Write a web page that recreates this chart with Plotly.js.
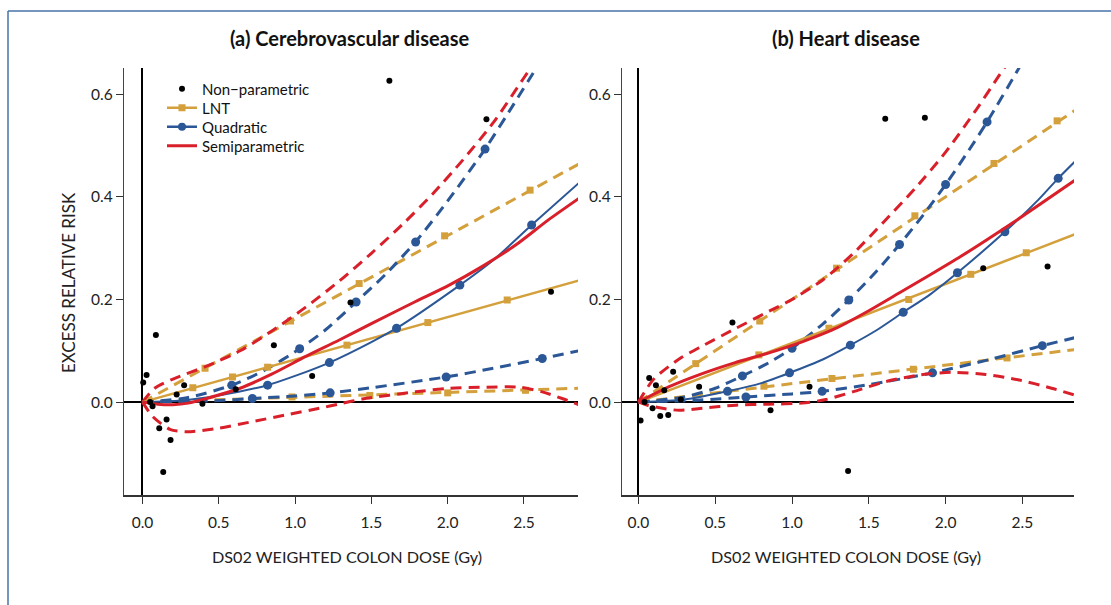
<!DOCTYPE html>
<html><head><meta charset="utf-8">
<script src="https://cdn.plot.ly/plotly-3.0.1.min.js"></script>
<style>html,body{margin:0;padding:0;background:#fff}</style>
</head><body><div id="chart" style="width:1111px;height:605px"></div>
<script>
// ---------- Panel (a) Cerebrovascular disease ----------
const aNonparX = [0.005, 0.027, 0.05, 0.066, 0.088, 0.11, 0.136, 0.158, 0.184, 0.224, 0.273, 0.393, 0.611, 0.861, 1.112, 1.363, 1.618, 2.254, 2.677];
const aNonparY = [0.038, 0.053, 0.0, -0.008, 0.131, -0.051, -0.136, -0.034, -0.074, 0.015, 0.033, -0.003, 0.025, 0.111, 0.051, 0.194, 0.626, 0.551, 0.215];

const aLntX = [0, 2.86];            const aLntY = [0, 0.237];
const aLntMarkX = [0.33, 0.59, 0.82, 1.34, 1.87, 2.39];
const aLntMarkY = [0.028, 0.049, 0.068, 0.111, 0.155, 0.199];
const aLntUpX = [0, 2.86];          const aLntUpY = [0, 0.464];
const aLntUpMarkX = [0.41, 0.97, 1.42, 1.98, 2.54];
const aLntUpMarkY = [0.066, 0.158, 0.231, 0.324, 0.413];
const aLntLoX = [0, 2.86];          const aLntLoY = [0, 0.027];
const aLntLoMarkX = [0.98, 1.49, 2.0, 2.51];
const aLntLoMarkY = [0.010, 0.013, 0.018, 0.023];

const aQuadX = [0, 0.25, 0.5, 0.82, 1.0, 1.225, 1.5, 1.665, 2.08, 2.3, 2.55, 2.86];
const aQuadY = [0, 0.003, 0.013, 0.033, 0.051, 0.077, 0.117, 0.144, 0.228, 0.277, 0.345, 0.427];
const aQuadMarkX = [0.82, 1.225, 1.665, 2.08, 2.55];
const aQuadMarkY = [0.033, 0.077, 0.144, 0.228, 0.345];
const aQuadUpX = [0, 0.3, 0.585, 0.8, 1.03, 1.2, 1.4, 1.6, 1.8, 2.0, 2.245, 2.4, 2.6];
const aQuadUpY = [0, 0.009, 0.033, 0.062, 0.104, 0.141, 0.195, 0.251, 0.316, 0.392, 0.493, 0.565, 0.66];
const aQuadUpMarkX = [0.585, 1.03, 1.40, 1.79, 2.245];
const aQuadUpMarkY = [0.033, 0.104, 0.195, 0.312, 0.493];
const aQuadLoX = [0, 0.5, 0.72, 1.0, 1.23, 1.5, 1.99, 2.3, 2.62, 2.86];
const aQuadLoY = [0, 0.003, 0.007, 0.012, 0.018, 0.028, 0.049, 0.066, 0.085, 0.1];
const aQuadLoMarkX = [0.72, 1.23, 1.99, 2.62];
const aQuadLoMarkY = [0.007, 0.018, 0.049, 0.085];

const aSemiX = [0, 0.1, 0.2, 0.3, 0.42, 0.64, 0.85, 1.07, 1.29, 1.5, 1.79, 2.01, 2.23, 2.45, 2.66, 2.86];
const aSemiY = [0, -0.004, -0.005, -0.002, 0.007, 0.027, 0.055, 0.089, 0.121, 0.153, 0.196, 0.228, 0.265, 0.307, 0.355, 0.397];
const aSemiUpX = [0, 0.08, 0.2, 0.42, 0.64, 0.855, 1.07, 1.29, 1.5, 1.7, 1.9, 2.1, 2.3, 2.5, 2.6];
const aSemiUpY = [0, 0.027, 0.045, 0.07, 0.1, 0.14, 0.185, 0.236, 0.29, 0.345, 0.405, 0.472, 0.545, 0.632, 0.675];
const aSemiLoX = [0, 0.07, 0.18, 0.29, 0.5, 0.72, 0.94, 1.16, 1.3, 1.44, 1.79, 2.01, 2.23, 2.47, 2.62, 2.75, 2.86];
const aSemiLoY = [0, -0.029, -0.053, -0.058, -0.051, -0.038, -0.025, -0.012, -0.003, 0.006, 0.02, 0.027, 0.029, 0.029, 0.02, 0.007, -0.005];

// ---------- Panel (b) Heart disease ----------
const bNonparX = [0.014, 0.04, 0.07, 0.092, 0.114, 0.142, 0.168, 0.194, 0.226, 0.276, 0.395, 0.612, 0.86, 1.114, 1.365, 1.607, 1.865, 2.245, 2.664];
const bNonparY = [-0.036, 0.0, 0.047, -0.012, 0.033, -0.027, 0.023, -0.025, 0.059, 0.005, 0.03, 0.155, -0.016, 0.03, -0.134, 0.552, 0.554, 0.261, 0.264];

const bLntX = [0, 2.86];            const bLntY = [0, 0.329];
const bLntMarkX = [0.784, 1.24, 1.76, 2.164, 2.525];
const bLntMarkY = [0.092, 0.144, 0.2, 0.249, 0.291];
const bLntUpX = [0, 2.86];          const bLntUpY = [0, 0.572];
const bLntUpMarkX = [0.373, 0.79, 1.29, 1.80, 2.315, 2.726];
const bLntUpMarkY = [0.075, 0.158, 0.261, 0.363, 0.465, 0.548];
const bLntLoX = [0, 2.86];          const bLntLoY = [0, 0.103];
const bLntLoMarkX = [0.817, 1.26, 1.79, 2.40];
const bLntLoMarkY = [0.031, 0.046, 0.064, 0.086];

const bQuadX = [0, 0.3, 0.58, 0.8, 0.984, 1.2, 1.38, 1.55, 1.724, 1.9, 2.077, 2.386, 2.6, 2.733, 2.86];
const bQuadY = [0, 0.005, 0.021, 0.037, 0.057, 0.083, 0.111, 0.14, 0.175, 0.21, 0.252, 0.332, 0.393, 0.436, 0.474];
const bQuadMarkX = [0.58, 0.984, 1.38, 1.724, 2.077, 2.386, 2.733];
const bQuadMarkY = [0.021, 0.057, 0.111, 0.175, 0.252, 0.332, 0.436];
const bQuadUpX = [0, 0.3, 0.5, 0.677, 0.85, 1.0, 1.2, 1.37, 1.55, 1.70, 1.85, 2.0, 2.15, 2.27, 2.47, 2.55];
const bQuadUpY = [0, 0.01, 0.027, 0.051, 0.077, 0.105, 0.152, 0.199, 0.255, 0.307, 0.363, 0.424, 0.49, 0.546, 0.647, 0.69];
const bQuadUpMarkX = [0.677, 1.0, 1.37, 1.70, 2.0, 2.27];
const bQuadUpMarkY = [0.051, 0.105, 0.199, 0.307, 0.424, 0.546];
const bQuadLoX = [0, 0.4, 0.70, 1.0, 1.196, 1.5, 1.915, 2.3, 2.63, 2.86];
const bQuadLoY = [0, 0.004, 0.010, 0.016, 0.021, 0.034, 0.057, 0.084, 0.11, 0.127];
const bQuadLoMarkX = [0.70, 1.196, 1.915, 2.63];
const bQuadLoMarkY = [0.010, 0.021, 0.057, 0.11];

const bSemiX = [0, 0.2, 0.42, 0.63, 0.85, 1.07, 1.28, 1.5, 1.7, 1.9, 2.1, 2.43, 2.86];
const bSemiY = [0, 0.03, 0.056, 0.077, 0.096, 0.118, 0.143, 0.178, 0.213, 0.248, 0.284, 0.348, 0.436];
const bSemiUpX = [0, 0.1, 0.27, 0.42, 0.63, 0.85, 1.0, 1.2, 1.4, 1.6, 1.8, 2.0, 2.2, 2.35, 2.45];
const bSemiUpY = [0, 0.045, 0.085, 0.11, 0.143, 0.177, 0.2, 0.238, 0.29, 0.352, 0.416, 0.487, 0.57, 0.637, 0.68];
const bSemiLoX = [0, 0.06, 0.157, 0.265, 0.417, 0.633, 0.85, 1.066, 1.22, 1.395, 1.61, 1.83, 2.04, 2.26, 2.48, 2.69, 2.86];
const bSemiLoY = [0, -0.006, -0.012, -0.016, -0.012, -0.006, -0.004, -0.002, 0.005, 0.02, 0.04, 0.053, 0.058, 0.054, 0.043, 0.027, 0.012];

const xTickVals = [0, 0.5, 1.0, 1.5, 2.0, 2.5];
const yTickVals = [0, 0.2, 0.4, 0.6];
const legendNames = ['Non\u2212parametric', 'LNT', 'Quadratic', 'Semiparametric'];
const panelTitles = ['(a) Cerebrovascular disease', '(b) Heart disease'];
const xTitle = 'DS02 WEIGHTED COLON DOSE (Gy)';
const yTitle = 'EXCESS RELATIVE RISK';

// ---------- styling ----------
const ORANGE = '#D4A03C', BLUE = '#2B5797', RED = '#D9202A';
const DASH = '11px,7px';
const FONT = 'Lato, "Open Sans", "DejaVu Sans", sans-serif';
const W = 1111, H = 605;
const px = v => v / W, py = v => 1 - v / H;

function line(x, y, color, width, dash, xa, ya) {
  return {type: 'scatter', mode: 'lines', x: x, y: y, xaxis: xa, yaxis: ya,
    line: {color: color, width: width, dash: dash || 'solid', shape: 'spline', smoothing: 0.7},
    showlegend: false, hoverinfo: 'skip'};
}
function marks(x, y, color, symbol, size, xa, ya) {
  return {type: 'scatter', mode: 'markers', x: x, y: y, xaxis: xa, yaxis: ya,
    marker: {color: color, symbol: symbol, size: size, line: {width: 0}},
    showlegend: false, hoverinfo: 'skip'};
}
function panel(d, xa, ya) {
  return [
    line(d.lntUpX, d.lntUpY, ORANGE, 3, DASH, xa, ya),
    marks(d.lntUpMX, d.lntUpMY, ORANGE, 'square', 7, xa, ya),
    line(d.lntLoX, d.lntLoY, ORANGE, 3, DASH, xa, ya),
    marks(d.lntLoMX, d.lntLoMY, ORANGE, 'square', 7, xa, ya),
    line(d.qUpX, d.qUpY, BLUE, 3, DASH, xa, ya),
    marks(d.qUpMX, d.qUpMY, BLUE, 'circle', 9, xa, ya),
    line(d.qLoX, d.qLoY, BLUE, 3, DASH, xa, ya),
    marks(d.qLoMX, d.qLoMY, BLUE, 'circle', 9, xa, ya),
    line(d.sUpX, d.sUpY, RED, 3, DASH, xa, ya),
    line(d.sLoX, d.sLoY, RED, 3, DASH, xa, ya),
    line(d.lntX, d.lntY, ORANGE, 2.5, 'solid', xa, ya),
    marks(d.lntMX, d.lntMY, ORANGE, 'square', 7, xa, ya),
    line(d.qX, d.qY, BLUE, 2, 'solid', xa, ya),
    marks(d.qMX, d.qMY, BLUE, 'circle', 9, xa, ya),
    line(d.sX, d.sY, RED, 3, 'solid', xa, ya),
    marks(d.npX, d.npY, '#000', 'circle', 6, xa, ya)
  ];
}
const traces = [].concat(
  panel({lntX: aLntX, lntY: aLntY, lntMX: aLntMarkX, lntMY: aLntMarkY,
    lntUpX: aLntUpX, lntUpY: aLntUpY, lntUpMX: aLntUpMarkX, lntUpMY: aLntUpMarkY,
    lntLoX: aLntLoX, lntLoY: aLntLoY, lntLoMX: aLntLoMarkX, lntLoMY: aLntLoMarkY,
    qX: aQuadX, qY: aQuadY, qMX: aQuadMarkX, qMY: aQuadMarkY,
    qUpX: aQuadUpX, qUpY: aQuadUpY, qUpMX: aQuadUpMarkX, qUpMY: aQuadUpMarkY,
    qLoX: aQuadLoX, qLoY: aQuadLoY, qLoMX: aQuadLoMarkX, qLoMY: aQuadLoMarkY,
    sX: aSemiX, sY: aSemiY, sUpX: aSemiUpX, sUpY: aSemiUpY, sLoX: aSemiLoX, sLoY: aSemiLoY,
    npX: aNonparX, npY: aNonparY}, 'x', 'y'),
  panel({lntX: bLntX, lntY: bLntY, lntMX: bLntMarkX, lntMY: bLntMarkY,
    lntUpX: bLntUpX, lntUpY: bLntUpY, lntUpMX: bLntUpMarkX, lntUpMY: bLntUpMarkY,
    lntLoX: bLntLoX, lntLoY: bLntLoY, lntLoMX: bLntLoMarkX, lntLoMY: bLntLoMarkY,
    qX: bQuadX, qY: bQuadY, qMX: bQuadMarkX, qMY: bQuadMarkY,
    qUpX: bQuadUpX, qUpY: bQuadUpY, qUpMX: bQuadUpMarkX, qUpMY: bQuadUpMarkY,
    qLoX: bQuadLoX, qLoY: bQuadLoY, qLoMX: bQuadLoMarkX, qLoMY: bQuadLoMarkY,
    sX: bSemiX, sY: bSemiY, sUpX: bSemiUpX, sUpY: bSemiUpY, sLoX: bSemiLoX, sLoY: bSemiLoY,
    npX: bNonparX, npY: bNonparY}, 'x2', 'y2')
);

// legend entries (one legend per entry for tight spacing)
const legendStyles = [
  {mode: 'markers', marker: {color: '#000', size: 6}},
  {mode: 'lines+markers', line: {color: ORANGE, width: 2.5}, marker: {color: ORANGE, symbol: 'square', size: 7}},
  {mode: 'lines+markers', line: {color: BLUE, width: 2.5}, marker: {color: BLUE, symbol: 'circle', size: 8}},
  {mode: 'lines', line: {color: RED, width: 3}}
];
const legendIds = ['legend', 'legend2', 'legend3', 'legend4'];
const legendRowY = [89, 108, 127, 146];
legendNames.forEach((n, i) => {
  traces.push(Object.assign({type: 'scatter', x: [null], y: [null], name: n,
    legend: legendIds[i], showlegend: true, xaxis: 'x', yaxis: 'y', hoverinfo: 'skip'}, legendStyles[i]));
});

function xAxis(dom, rng, anchor) {
  return {domain: dom, range: rng, anchor: anchor, tickvals: xTickVals, tickformat: '.1f',
    ticks: 'outside', ticklen: 7, tickwidth: 1, tickcolor: '#333', ticklabelstandoff: 6,
    showline: true, linecolor: '#333', linewidth: 1.5, showgrid: false,
    zeroline: true, zerolinecolor: '#000', zerolinewidth: 2,
    tickfont: {family: FONT, size: 15.5, color: '#222'}, fixedrange: true};
}
function yAxis(dom, rng, anchor) {
  return {domain: dom, range: rng, anchor: anchor, tickvals: yTickVals, tickformat: '.1f',
    ticks: 'outside', ticklen: 7, tickwidth: 1, tickcolor: '#333',
    showline: true, linecolor: '#444', linewidth: 1.2, showgrid: false,
    zeroline: true, zerolinecolor: '#000', zerolinewidth: 2,
    tickfont: {family: FONT, size: 15.5, color: '#222'}, fixedrange: true};
}

const yDom = [py(495), py(68)];
const layout = {
  width: W, height: H, margin: {l: 0, r: 0, t: 0, b: 0, pad: 0},
  paper_bgcolor: '#fff', plot_bgcolor: 'rgba(0,0,0,0)',
  xaxis: xAxis([px(124), px(578)], [-0.121, 2.854], 'y'),
  yaxis: yAxis(yDom, [-0.181, 0.651], 'x'),
  xaxis2: xAxis([px(622), px(1074)], [-0.107, 2.836], 'y2'),
  yaxis2: yAxis(yDom, [-0.181, 0.651], 'x2'),
  annotations: [
    {text: panelTitles[0], x: px(350), y: py(38), xref: 'paper', yref: 'paper', showarrow: false,
      xanchor: 'center', yanchor: 'middle', font: {family: FONT, size: 20, color: '#111', weight: 700}},
    {text: panelTitles[1], x: px(846), y: py(38), xref: 'paper', yref: 'paper', showarrow: false,
      xanchor: 'center', yanchor: 'middle', font: {family: FONT, size: 20, color: '#111', weight: 700}},
    {text: xTitle, x: px(347), y: py(556), xref: 'paper', yref: 'paper', showarrow: false,
      xanchor: 'center', yanchor: 'middle', font: {family: FONT, size: 16.2, color: '#222'}},
    {text: xTitle, x: px(846), y: py(556), xref: 'paper', yref: 'paper', showarrow: false,
      xanchor: 'center', yanchor: 'middle', font: {family: FONT, size: 16.2, color: '#222'}},
    {text: yTitle, x: px(68), y: py(283), xref: 'paper', yref: 'paper', showarrow: false, textangle: -90,
      xanchor: 'center', yanchor: 'middle', font: {family: FONT, size: 17, color: '#222'}}
  ],
  shapes: [
    {type: 'line', xref: 'paper', yref: 'paper', x0: px(8), x1: 1.01, y0: py(11), y1: py(11),
      line: {color: '#4472A8', width: 1.5}},
    {type: 'line', xref: 'paper', yref: 'paper', x0: px(8), x1: px(8), y0: py(11), y1: -0.02,
      line: {color: '#4472A8', width: 1.5}}
  ]
};
legendIds.forEach((id, i) => {
  layout[id] = {x: px(162), y: py(legendRowY[i]), xanchor: 'left', yanchor: 'middle',
    bgcolor: 'rgba(0,0,0,0)', borderwidth: 0, font: {family: FONT, size: 15, color: '#111'},
    itemclick: false, itemdoubleclick: false};
});

Plotly.newPlot('chart', traces, layout, {staticPlot: true, displayModeBar: false});
</script></body></html>
